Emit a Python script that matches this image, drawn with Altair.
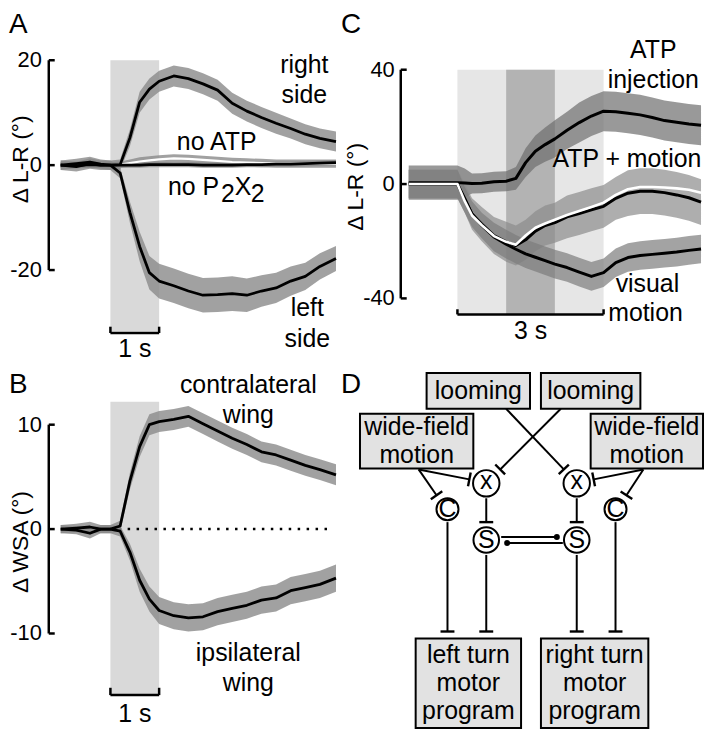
import altair as alt
import pandas as pd

FONT = "Liberation Sans"

# ---------------- Panel A : delta L-R, right / left side, controls ----------------
tA = [-1.02, -0.7, -0.42, -0.2, 0.0, 0.2, 0.4, 0.6, 0.8, 1.0, 1.3, 1.6, 1.9, 2.2, 2.5, 2.8, 3.1, 3.4, 3.7, 4.0, 4.3, 4.63]
right_side = [0.0, 0.3, 0.6, 0.2, 0.0, 0.1, 5.2, 12.0, 14.5, 16.0, 17.0, 16.5, 15.5, 14.3, 11.8, 10.3, 9.1, 8.0, 7.0, 5.9, 5.1, 4.5]
right_err = [0.9, 0.9, 1.0, 0.9, 0.9, 1.0, 1.6, 2.0, 2.0, 2.0, 2.0, 2.0, 2.0, 2.0, 2.0, 2.0, 2.0, 2.0, 1.9, 1.9, 1.9, 1.9]
left_side = [0.0, -0.3, 0.3, 0.0, 0.0, -1.5, -9.0, -15.5, -20.5, -22.1, -23.0, -24.0, -24.8, -24.7, -24.5, -24.8, -24.0, -23.4, -22.1, -21.2, -19.3, -17.8]
left_err = [0.9, 0.9, 1.0, 0.9, 0.9, 1.0, 2.0, 2.8, 3.2, 3.3, 3.3, 3.3, 3.3, 3.3, 3.3, 3.2, 3.0, 2.9, 2.8, 2.6, 2.5, 2.4]
no_atp = [0.0, 0.1, 0.2, 0.1, 0.0, 0.1, 0.4, 0.7, 0.9, 1.1, 1.3, 1.2, 1.0, 0.8, 0.6, 0.5, 0.4, 0.3, 0.3, 0.3, 0.3, 0.3]
no_atp_err = [0.6, 0.6, 0.7, 0.6, 0.6, 0.6, 0.7, 0.8, 0.8, 0.8, 0.8, 0.8, 0.8, 0.8, 0.8, 0.8, 0.8, 0.8, 0.8, 0.8, 0.8, 0.8]
no_p2x2 = [0.0, -0.1, 0.1, 0.0, 0.0, 0.0, 0.0, 0.0, 0.1, 0.1, 0.1, 0.1, 0.0, 0.0, 0.0, 0.1, 0.1, 0.2, 0.2, 0.3, 0.4, 0.5]
no_p2x2_err = [0.5, 0.5, 0.6, 0.5, 0.5, 0.5, 0.5, 0.5, 0.5, 0.5, 0.5, 0.5, 0.5, 0.5, 0.5, 0.5, 0.5, 0.5, 0.5, 0.5, 0.5, 0.5]
ticksA = [20, 0, -20]

# ---------------- Panel B : delta WSA ----------------
tB = [-1.02, -0.7, -0.42, -0.2, 0.0, 0.2, 0.4, 0.6, 0.8, 1.0, 1.3, 1.6, 1.9, 2.2, 2.5, 2.8, 3.1, 3.4, 3.7, 4.0, 4.3, 4.63]
contra = [0.0, 0.1, 0.2, 0.0, 0.0, 0.3, 4.6, 7.9, 10.0, 10.3, 10.5, 10.8, 10.1, 9.4, 8.7, 8.1, 7.4, 7.1, 6.6, 6.1, 5.7, 5.2]
contra_err = [0.4, 0.4, 0.5, 0.4, 0.4, 0.5, 0.8, 1.0, 1.0, 1.0, 1.0, 1.0, 1.0, 1.0, 1.0, 1.0, 1.0, 1.0, 1.0, 1.0, 1.0, 1.0]
ipsi = [0.0, -0.1, -0.4, 0.0, 0.0, -0.2, -2.2, -4.9, -6.7, -7.8, -8.3, -8.5, -8.4, -7.9, -7.6, -7.3, -6.8, -6.6, -5.9, -5.6, -5.3, -4.7]
ipsi_err = [0.4, 0.4, 0.5, 0.4, 0.4, 0.5, 0.8, 1.1, 1.2, 1.3, 1.3, 1.3, 1.3, 1.3, 1.3, 1.3, 1.3, 1.3, 1.3, 1.3, 1.3, 1.3]
ticksB = [10, 0, -10]

# ---------------- Panel C : ATP injection / visual motion ----------------
tC = [-1.0, -0.5, 0.0, 0.15, 0.3, 0.5, 0.75, 1.0, 1.2, 1.4, 1.6, 1.8, 2.0, 2.25, 2.5, 2.75, 3.0, 3.25, 3.5, 3.75, 4.0, 4.25, 4.5, 4.75, 5.0]
atp_inj = [0.5, 0.5, 0.5, 0.4, 0.2, 0.3, 0.8, 1.0, 2.0, 7.5, 11.5, 13.8, 15.8, 18.8, 21.5, 23.8, 25.5, 25.3, 24.8, 24.2, 23.3, 22.2, 21.6, 21.0, 20.6]
atp_inj_err = [6.0, 6.0, 6.0, 5.0, 3.5, 3.5, 3.5, 3.5, 4.0, 5.0, 5.5, 6.0, 6.5, 6.5, 7.0, 7.0, 7.0, 7.0, 7.0, 7.0, 7.0, 7.0, 7.0, 7.0, 7.0]
atp_motion = [0.0, 0.0, 0.0, -5.0, -10.5, -14.0, -18.0, -20.2, -21.5, -19.5, -16.5, -14.5, -13.5, -11.5, -10.3, -9.0, -7.8, -5.0, -3.2, -2.5, -2.5, -3.0, -3.8, -4.8, -6.3]
atp_motion_err = [5.0, 5.0, 5.0, 5.0, 5.5, 6.0, 6.5, 7.0, 7.0, 7.0, 7.0, 7.0, 7.0, 7.5, 7.5, 7.5, 7.5, 7.5, 8.0, 8.0, 8.0, 8.0, 8.0, 8.0, 8.0]
atp_motion_white = [0.0, 0.0, 0.0, -6.0, -11.0, -14.4, -18.2, -20.2, -21.2, -18.0, -15.3, -13.8, -12.5, -10.8, -9.4, -8.0, -6.5, -3.8, -1.8, -1.0, -1.0, -1.2, -1.5, -2.0, -3.0]
visual = [0.0, 0.0, 0.0, -5.5, -10.5, -14.5, -18.5, -21.0, -22.8, -24.4, -25.6, -26.8, -28.0, -29.2, -30.8, -32.3, -31.0, -27.5, -25.7, -25.0, -24.6, -24.2, -23.8, -23.2, -22.7]
visual_err = [5.0, 5.0, 5.0, 4.5, 4.5, 4.5, 5.0, 5.0, 5.0, 5.0, 5.0, 5.0, 5.0, 5.0, 5.0, 5.0, 5.0, 5.0, 5.0, 5.0, 5.0, 5.0, 5.0, 5.0, 5.0]
ticksC = [40, 0, -40]

# ---------------- Panel D : circuit diagram (layout in diagram units) ----------------
box_x1 = [70, 185, 3, 235, 59, 185]
box_x2 = [174, 285, 117, 348, 165, 293]
box_y1 = [14, 14, 55, 55, 281, 281]
box_y2 = [50, 50, 110, 110, 371, 371]
box_lines = [["looming"], ["looming"], ["wide-field", "motion"], ["wide-field", "motion"],
             ["left turn", "motor", "program"], ["right turn", "motor", "program"]]
box_line_y = [[32], [32], [68, 97], [68, 97], [298, 326, 354], [298, 326, 354]]
node_label = ["x", "x", "C", "C", "S", "S"]
node_x = [130, 221, 91, 260, 130, 221]
node_y = [125, 125, 151, 151, 182, 182]
node_r = [15, 15, 12.5, 12.5, 14.5, 14.5]
node_text_dy = [-2, -2, 0, 0, 0, 0]
# edges ending in a bar (inhibitory style)
bar_edges = [(150, 50, 208, 111), (205, 50, 144, 111),
             (62, 111, 113, 121), (62, 111, 80, 137),
             (288, 111, 238, 121), (288, 111, 271, 137),
             (130, 140, 130, 164), (221, 140, 221, 164),
             (91, 164, 91, 274), (130, 197, 130, 274),
             (221, 197, 221, 274), (260, 164, 260, 274)]
# edges ending in a dot
dot_edges = [(145, 179, 201, 179), (207, 185, 151, 185)]


def series_df(t, v, e):
    return pd.DataFrame({"t": t, "v": v,
                         "lo": [a - b for a, b in zip(v, e)],
                         "hi": [a + b for a, b in zip(v, e)]})


def scales(xd, yd, reverse=False):
    xs = alt.Scale(domain=xd, nice=False, zero=False)
    if reverse:
        ys = alt.Scale(domain=yd, nice=False, zero=False, reverse=True)
    else:
        ys = alt.Scale(domain=yd, nice=False, zero=False)
    return xs, ys


def band(df, xs, ys, color, opacity):
    return alt.Chart(df).mark_area(color=color, opacity=opacity).encode(
        x=alt.X("t:Q", scale=xs, axis=None),
        y=alt.Y("lo:Q", scale=ys, axis=None),
        y2="hi:Q")


def trace(df, xs, ys, color, width=2.8):
    return alt.Chart(df).mark_line(color=color, strokeWidth=width, strokeJoin="round").encode(
        x=alt.X("t:Q", scale=xs, axis=None),
        y=alt.Y("v:Q", scale=ys, axis=None))


def rules(rows, xs, ys, width=2.5, dash=None, color="black"):
    df = pd.DataFrame(rows, columns=["x1", "x2", "y1", "y2"])
    kw = dict(color=color, strokeWidth=width)
    if dash:
        kw["strokeDash"] = dash
    return alt.Chart(df).mark_rule(**kw).encode(
        x=alt.X("x1:Q", scale=xs, axis=None), x2="x2:Q",
        y=alt.Y("y1:Q", scale=ys, axis=None), y2="y2:Q")


def rects(rows, xs, ys, color, **kw):
    df = pd.DataFrame(rows, columns=["x1", "x2", "y1", "y2"])
    return alt.Chart(df).mark_rect(color=color, **kw).encode(
        x=alt.X("x1:Q", scale=xs, axis=None), x2="x2:Q",
        y=alt.Y("y1:Q", scale=ys, axis=None), y2="y2:Q")


def texts(rows, xs, ys, size, align="center", baseline="alphabetic", angle=None):
    df = pd.DataFrame(rows, columns=["x", "y", "label"])
    kw = dict(font=FONT, fontSize=size, align=align, baseline=baseline, color="black")
    if angle is not None:
        kw["angle"] = angle
    return alt.Chart(df).mark_text(**kw).encode(
        x=alt.X("x:Q", scale=xs, axis=None),
        y=alt.Y("y:Q", scale=ys, axis=None),
        text="label:N")


def axis_layers(xs, ys, t_axis, t_tick, ticks, t_lab):
    rows = [(t_axis, t_axis, min(ticks), max(ticks))]
    rows += [(t_axis, t_tick, v, v) for v in ticks]
    labs = [(t_lab, v, str(v)) for v in ticks]
    return [rules(rows, xs, ys, 2.5), texts(labs, xs, ys, 22, align="right", baseline="middle")]


def scale_bar(xs, ys, t0, t1, vbar, vtick):
    return rules([(t0, t1, vbar, vbar), (t0, t0, vbar, vtick), (t1, t1, vbar, vtick)], xs, ys, 2.5)


BAND = "#8a8a8a"

# ---------------- build panel A ----------------
xsA, ysA = scales([-2.0816, 5.0612], [-36.97, 29.38])
layersA = [rects([(0, 1, -31.7, 20)], xsA, ysA, "#d9d9d9")]
for v, e in [(right_side, right_err), (left_side, left_err), (no_atp, no_atp_err), (no_p2x2, no_p2x2_err)]:
    layersA.append(band(series_df(tA, v, e), xsA, ysA, BAND, 0.8))
layersA.append(trace(series_df(tA, no_atp, no_atp_err), xsA, ysA, "white", 2.2))
for v in [no_p2x2, right_side, left_side]:
    layersA.append(trace(series_df(tA, v, no_p2x2_err), xsA, ysA, "black"))
layersA += axis_layers(xsA, ysA, -1.265, -1.143, ticksA, -1.408)
layersA.append(scale_bar(xsA, ysA, 0, 1, -32.0, -30.8))
layersA.append(texts([(-2.08, 25.11, "A")], xsA, ysA, 28, align="left"))
layersA.append(texts([(-1.8367, 1.1, "Δ L-R (°)")], xsA, ysA, 23, baseline="middle", angle=270))
layersA.append(texts([(3.98, 17.63, "right"), (3.98, 11.94, "side"), (2.18, 2.84, "no ATP"),
                      (4.04, -28.8, "left"), (4.04, -34.7, "side"), (0.5, -36.6, "1 s")],
                     xsA, ysA, 25))
layersA.append(texts([(1.18, -5.69, "no P"), (2.27, -7.0, "2"), (2.55, -5.69, "X"), (2.88, -7.0, "2")],
                     xsA, ysA, 25, align="left"))
panelA = alt.layer(*layersA).properties(width=350, height=350)

# ---------------- build panel B ----------------
xsB, ysB = scales([-2.0816, 5.0612], [-19.143, 16.286])
layersB = [rects([(0, 1, -15.9, 12.2)], xsB, ysB, "#d9d9d9")]
layersB.append(rules([(0.17, 4.49, 0, 0)], xsB, ysB, 2.5, dash=[2.5, 6.5]))
for v, e in [(contra, contra_err), (ipsi, ipsi_err)]:
    layersB.append(band(series_df(tB, v, e), xsB, ysB, BAND, 0.8))
for v, e in [(contra, contra_err), (ipsi, ipsi_err)]:
    layersB.append(trace(series_df(tB, v, e), xsB, ysB, "black"))
layersB += axis_layers(xsB, ysB, -1.265, -1.143, ticksB, -1.408)
layersB.append(scale_bar(xsB, ysB, 0, 1, -15.9, -15.2))
layersB.append(texts([(-2.08, 13.05, "B")], xsB, ysB, 28, align="left"))
layersB.append(texts([(-1.8367, -1.24, "Δ WSA (°)")], xsB, ysB, 23, baseline="middle", angle=270))
layersB.append(texts([(2.83, 13.05, "contralateral"), (2.83, 10.2, "wing"),
                      (2.83, -12.67, "ipsilateral"), (2.83, -15.5, "wing"), (0.5, -18.5, "1 s")],
                     xsB, ysB, 25))
panelB = alt.layer(*layersB).properties(width=350, height=372)

# ---------------- build panel C ----------------
xsC, ysC = scales([-2.0612, 5.0816], [-61.22, 60.52])
layersC = [rects([(0, 3, -45.6, 40)], xsC, ysC, "#e6e6e6"),
           rects([(1, 2, -45.6, 40)], xsC, ysC, "#b3b3b3")]
for v, e, c in [(atp_inj, atp_inj_err, "#6e6e6e"), (atp_motion, atp_motion_err, "#8c8c8c"),
                (visual, visual_err, "#7c7c7c")]:
    layersC.append(band(series_df(tC, v, e), xsC, ysC, c, 0.7))
for v in [visual, atp_motion, atp_inj]:
    layersC.append(trace(series_df(tC, v, visual_err), xsC, ysC, "black", 3))
layersC.append(trace(series_df(tC, atp_motion_white, visual_err), xsC, ysC, "white", 2.6))
layersC += axis_layers(xsC, ysC, -1.163, -1.041, ticksC, -1.286)
layersC.append(scale_bar(xsC, ysC, 0, 3, -45.6, -43.8))
layersC.append(texts([(-2.388, 52.69, "C")], xsC, ysC, 28, align="left"))
layersC.append(texts([(-2.08, -1.0, "Δ L-R (°)")], xsC, ysC, 23, baseline="middle", angle=270))
layersC.append(texts([(4.02, 44.2, "ATP"), (4.02, 33.7, "injection"), (3.48, 5.9, "ATP + motion"),
                      (3.9, -37.6, "visual"), (3.86, -48.0, "motion"), (1.5, -54.3, "3 s")],
                     xsC, ysC, 25))
panelC = alt.layer(*layersC).properties(width=350, height=350)

# ---------------- build panel D ----------------
xsD, ysD = scales([0, 350], [0, 372], reverse=True)
layersD = [rects(list(zip(box_x1, box_x2, box_y1, box_y2)), xsD, ysD, "#e2e2e2",
                 stroke="black", strokeWidth=2)]
box_text = []
for i, lines in enumerate(box_lines):
    cx = (box_x1[i] + box_x2[i]) / 2
    for ln, yy in zip(lines, box_line_y[i]):
        box_text.append((cx, yy, ln))
layersD.append(texts(box_text, xsD, ysD, 25, baseline="middle"))

edge_rows = list(bar_edges) + list(dot_edges)
layersD.append(rules([(a, c, b, d) for a, b, c, d in edge_rows], xsD, ysD, 2))
bar_rows = []
for a, b, c, d in bar_edges:
    dx, dy = c - a, d - b
    L = (dx * dx + dy * dy) ** 0.5
    px, py = -dy / L * 7, dx / L * 7
    bar_rows.append((c - px, c + px, d - py, d + py))
layersD.append(rules(bar_rows, xsD, ysD, 2.4))
dots = pd.DataFrame({"x": [e[2] for e in dot_edges], "y": [e[3] for e in dot_edges]})
layersD.append(alt.Chart(dots).mark_point(shape="circle", filled=True, color="black", size=36, opacity=1).encode(
    x=alt.X("x:Q", scale=xsD, axis=None), y=alt.Y("y:Q", scale=ysD, axis=None)))

for r in sorted(set(node_r)):
    sub = pd.DataFrame({"x": [x for x, rr in zip(node_x, node_r) if rr == r],
                        "y": [y for y, rr in zip(node_y, node_r) if rr == r]})
    layersD.append(alt.Chart(sub).mark_point(shape="circle", filled=False, fill="white", stroke="black",
                                              strokeWidth=2, size=3.1416 * r * r, opacity=1).encode(
        x=alt.X("x:Q", scale=xsD, axis=None), y=alt.Y("y:Q", scale=ysD, axis=None)))
layersD.append(texts([(x, y + dy, l) for x, y, dy, l in zip(node_x, node_y, node_text_dy, node_label)],
                     xsD, ysD, 25, baseline="middle"))
layersD.append(texts([(-16, 34, "D")], xsD, ysD, 28, align="left"))
panelD = alt.layer(*layersD).properties(width=350, height=372)

chart = alt.concat(panelA, panelC, panelB, panelD, columns=2, spacing=0, bounds="flush").properties(
    padding=0).configure_view(stroke="transparent")

chart.save("out.html", embed_options={"renderer": "svg", "actions": False})
